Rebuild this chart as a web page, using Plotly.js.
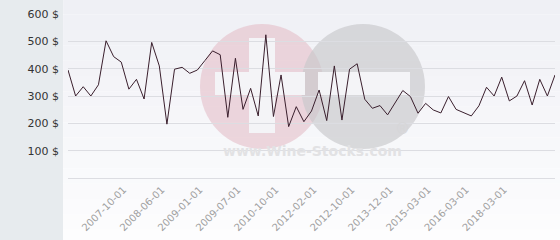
<!DOCTYPE html>
<html>
<head>
<meta charset="utf-8">
<script src="https://cdn.plot.ly/plotly-3.0.1.min.js"></script>
<style>
html,body{margin:0;padding:0;background:#ffffff;}
#chart{width:560px;height:240px;}
</style>
</head>
<body>
<div id="chart"></div>
<script>
const prices = [395, 300, 334, 300, 341, 502, 444, 424, 325, 361,
                289, 496, 410, 197, 398, 405, 383, 395, 430, 465,
                451, 222, 438, 251, 328, 227, 524, 225, 377, 188,
                261, 206, 245, 322, 210, 410, 212, 398, 418, 288,
                255, 265, 231, 275, 320, 298, 237, 273, 249, 238,
                298, 251, 240, 227, 264, 332, 300, 369, 282, 300,
                356, 267, 361, 300, 377];
// observation index of each labelled date
const tickIndex = [7.3, 12.3, 17.3, 22.3, 27.3, 32.3, 37.3, 42.3, 47.3, 52.3, 57.3];
const tickDates = ['2007-10-01', '2008-06-01', '2009-01-01', '2009-07-01', '2010-10-01',
                   '2012-02-01', '2012-10-01', '2013-12-01', '2015-03-01', '2016-03-01', '2018-03-01'];
const yTicks = [100, 200, 300, 400, 500, 600];
const yTickText = yTicks.map(v => v + ' $');

const obs = prices.map((_, i) => i);

// background gradient bands + left panel + watermark
const shapes = [];
const nBands = 16;
for (let k = 0; k < nBands; k++) {
  const t = k / (nBands - 1);
  const c0 = [239, 240, 245], c1 = [253, 253, 254];
  const c = c0.map((a, j) => Math.round(a + (c1[j] - a) * t));
  shapes.push({type: 'rect', xref: 'paper', yref: 'paper', layer: 'below',
    x0: -0.01, x1: 1.02, y0: 1.09 - (k + 1) * (1.5 / nBands), y1: 1.09 - k * (1.5 / nBands),
    line: {width: 0}, fillcolor: `rgb(${c[0]},${c[1]},${c[2]})`});
}
const W = 487, H = 164; // plot area size
function px(x) { return (x - 68) / W; }
function py(y) { return (178 - y) / H; }
shapes.push({type: 'circle', xref: 'paper', yref: 'paper', layer: 'below',
  x0: px(200), x1: px(324), y0: py(149), y1: py(24), line: {width: 0}, fillcolor: 'rgba(228,190,200,0.6)'});
shapes.push({type: 'circle', xref: 'paper', yref: 'paper', layer: 'below',
  x0: px(301), x1: px(425), y0: py(149), y1: py(24), line: {width: 0}, fillcolor: 'rgba(200,200,203,0.65)'});
shapes.push({type: 'rect', xref: 'paper', yref: 'paper', layer: 'below',
  x0: px(215), x1: px(305), y0: py(95), y1: py(72), line: {width: 0}, fillcolor: '#f4f4f7'});
shapes.push({type: 'rect', xref: 'paper', yref: 'paper', layer: 'below',
  x0: px(249), x1: px(275), y0: py(133), y1: py(38), line: {width: 0}, fillcolor: '#f4f4f7'});
shapes.push({type: 'rect', xref: 'paper', yref: 'paper', layer: 'below',
  x0: px(318), x1: px(410), y0: py(95), y1: py(72), line: {width: 0}, fillcolor: '#f4f4f7'});
// left grey panel
shapes.push({type: 'rect', xref: 'paper', yref: 'paper', layer: 'below',
  x0: px(0), x1: px(63), y0: py(240), y1: py(0), line: {width: 0}, fillcolor: '#e7ebee'});

const trace = {
  x: obs, y: prices, type: 'scatter', mode: 'lines',
  line: {color: '#3a1f2d', width: 1},
  hoverinfo: 'skip'
};

const layout = {
  width: 560, height: 240,
  margin: {l: 68, r: 5, t: 14, b: 62},
  paper_bgcolor: 'rgba(0,0,0,0)',
  plot_bgcolor: 'rgba(0,0,0,0)',
  showlegend: false,
  font: {family: 'DejaVu Sans', size: 11, color: '#333'},
  xaxis: {
    range: [0, 64], showgrid: false, zeroline: false, showline: false,
    tickmode: 'array', tickvals: tickIndex, ticktext: tickDates,
    tickangle: -45, tickfont: {family: 'DejaVu Sans', size: 10, color: '#a0a0a0'},
    ticks: '', ticklabelstandoff: 3
  },
  yaxis: {
    range: [0, 600], tickmode: 'array', tickvals: yTicks, ticktext: yTickText,
    showgrid: true, gridcolor: '#dcdde2', gridwidth: 1,
    zeroline: true, zerolinecolor: '#dcdde2', zerolinewidth: 1,
    showline: false, ticks: '', ticklabelstandoff: 8,
    tickfont: {family: 'DejaVu Sans', size: 11, color: '#333'}
  },
  shapes: shapes,
  annotations: [
    {xref: 'paper', yref: 'paper', x: px(312), y: py(161), text: 'www.Wine-Stocks.com',
     showarrow: false, font: {family: 'DejaVu Sans', size: 14, color: '#e2e2e4', weight: 'bold'}},
    {xref: 'paper', yref: 'paper', x: px(412), y: py(140), text: '®',
     showarrow: false, font: {family: 'DejaVu Sans', size: 15, color: '#d6d6d8'}}
  ]
};

Plotly.newPlot('chart', [trace], layout, {staticPlot: true, displayModeBar: false});
</script>
</body>
</html>
